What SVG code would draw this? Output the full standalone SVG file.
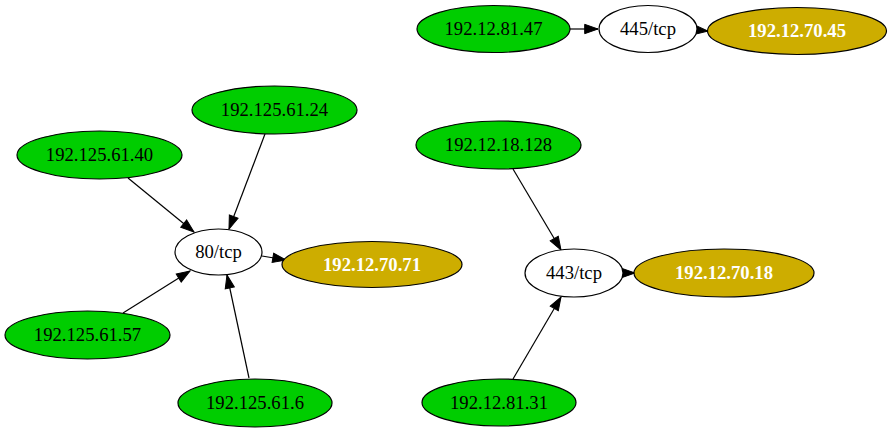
<svg xmlns="http://www.w3.org/2000/svg" width="892" height="432" viewBox="0 0 892 432">
<style>
.n ellipse{stroke:#000;stroke-width:1.2}
.src ellipse{fill:#00cd00}
.port ellipse{fill:#fff}
.dst ellipse{fill:#cdad00}
text{font-family:"Liberation Serif","Times New Roman",serif;font-size:18.67px;text-anchor:middle}
.dst text{fill:#fff;font-weight:bold}
.e line{stroke:#000;stroke-width:1.2;fill:none}
</style>
<defs>
<marker id="ah" markerUnits="userSpaceOnUse" markerWidth="14" markerHeight="10" refX="13.3" refY="4.67" orient="auto" overflow="visible">
<path d="M0,0 L13.3,4.67 L0,9.33 z" fill="#000" stroke="#000" stroke-width="1"/>
</marker>
</defs>
<rect width="892" height="432" fill="#fff"/>
<g id="edges" class="e">
<line x1="570" y1="29" x2="598" y2="29" marker-end="url(#ah)"/>
<line x1="697" y1="30" x2="708" y2="31" marker-end="url(#ah)"/>
<line x1="128" y1="178" x2="194" y2="232" marker-end="url(#ah)"/>
<line x1="265" y1="134" x2="229" y2="229" marker-end="url(#ah)"/>
<line x1="123" y1="313" x2="190" y2="271" marker-end="url(#ah)"/>
<line x1="249" y1="378" x2="227" y2="275" marker-end="url(#ah)"/>
<line x1="262" y1="256" x2="286" y2="260" marker-end="url(#ah)"/>
<line x1="513" y1="169" x2="561" y2="250" marker-end="url(#ah)"/>
<line x1="513" y1="379" x2="561" y2="297" marker-end="url(#ah)"/>
<line x1="623" y1="273" x2="635" y2="273" marker-end="url(#ah)"/>
</g>
<g id="n_192_12_81_47" class="n src"><ellipse cx="493.5" cy="29" rx="76.5" ry="23.5"/><text x="493.5" y="35">192.12.81.47</text></g>
<g id="n_445tcp" class="n port"><ellipse cx="648" cy="29" rx="49" ry="23.5"/><text x="648" y="35">445/tcp</text></g>
<g id="n_192_12_70_45" class="n dst"><ellipse cx="797" cy="31" rx="89.5" ry="23.5"/><text x="797" y="37">192.12.70.45</text></g>
<g id="n_192_125_61_24" class="n src"><ellipse cx="274.5" cy="110" rx="82.5" ry="24"/><text x="274.5" y="116">192.125.61.24</text></g>
<g id="n_192_125_61_40" class="n src"><ellipse cx="99.5" cy="155" rx="82.5" ry="24"/><text x="99.5" y="161">192.125.61.40</text></g>
<g id="n_80tcp" class="n port"><ellipse cx="218.5" cy="252" rx="43.5" ry="23"/><text x="218.5" y="258">80/tcp</text></g>
<g id="n_192_12_70_71" class="n dst"><ellipse cx="372" cy="264.5" rx="90" ry="23"/><text x="372" y="270.5">192.12.70.71</text></g>
<g id="n_192_125_61_57" class="n src"><ellipse cx="87.5" cy="335" rx="82.5" ry="24"/><text x="87.5" y="341">192.125.61.57</text></g>
<g id="n_192_125_61_6" class="n src"><ellipse cx="255" cy="403" rx="77" ry="24"/><text x="255" y="409">192.125.61.6</text></g>
<g id="n_192_12_18_128" class="n src"><ellipse cx="498.5" cy="145" rx="82.5" ry="24"/><text x="498.5" y="151">192.12.18.128</text></g>
<g id="n_443tcp" class="n port"><ellipse cx="574" cy="273" rx="49" ry="24"/><text x="574" y="279">443/tcp</text></g>
<g id="n_192_12_70_18" class="n dst"><ellipse cx="724" cy="273" rx="90" ry="24"/><text x="724" y="279">192.12.70.18</text></g>
<g id="n_192_12_81_31" class="n src"><ellipse cx="499" cy="402.5" rx="77" ry="23.5"/><text x="499" y="408.5">192.12.81.31</text></g>
</svg>
